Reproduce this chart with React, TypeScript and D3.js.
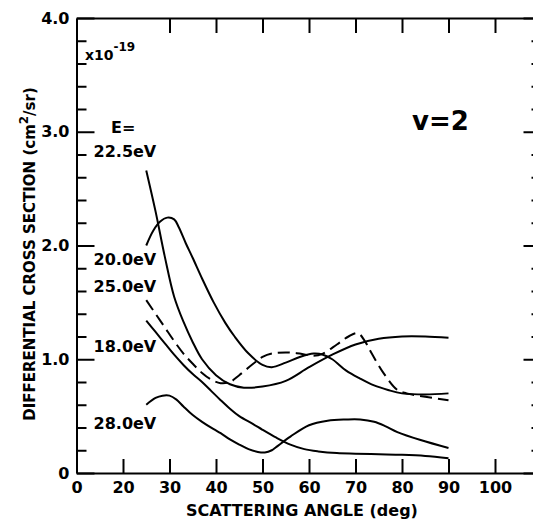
import React, { useRef, useEffect } from 'react';
import * as d3 from 'd3';

// scattering angle (deg) / differential cross section (x1e-19 cm^2/sr), v=2
const ang225 = [25, 27, 29, 31, 33, 35, 37, 40, 43, 46, 50, 55, 60, 65, 70, 75, 80, 85, 90];
const val225 = [2.66, 2.30, 1.90, 1.55, 1.33, 1.15, 1.00, 0.86, 0.78, 0.75, 0.76, 0.81, 0.93, 1.04, 1.13, 1.18, 1.20, 1.20, 1.19];

const ang200 = [25, 26.5, 28, 29.5, 31, 32, 33.5, 35, 37, 39.5, 42, 44, 47, 50, 52, 55, 58, 61, 63, 65, 68, 71, 74, 77, 80, 85, 90];
const val200 = [2.0, 2.13, 2.21, 2.245, 2.23, 2.16, 2.02, 1.89, 1.71, 1.50, 1.32, 1.20, 1.05, 0.95, 0.93, 0.97, 1.02, 1.05, 1.04, 1.00, 0.90, 0.83, 0.77, 0.73, 0.70, 0.69, 0.70];

const ang250 = [25, 27, 29, 31, 33, 35, 37, 39, 41, 43, 45, 48, 50, 52, 55, 58, 61, 63, 66, 68.5, 70.5, 72, 73.5, 76, 79, 81, 85, 90];
const val250 = [1.52, 1.40, 1.28, 1.16, 1.05, 0.96, 0.88, 0.82, 0.79, 0.80, 0.86, 0.96, 1.02, 1.05, 1.06, 1.05, 1.03, 1.05, 1.13, 1.20, 1.23, 1.16, 1.05, 0.88, 0.73, 0.70, 0.67, 0.64];

const ang180 = [25, 27, 29, 31, 33, 35, 37, 39, 41, 43, 45, 48, 50, 53, 56, 59, 62, 66, 70, 75, 80, 85, 90];
const val180 = [1.34, 1.24, 1.14, 1.04, 0.95, 0.87, 0.80, 0.72, 0.64, 0.565, 0.50, 0.43, 0.38, 0.31, 0.25, 0.21, 0.19, 0.175, 0.17, 0.165, 0.16, 0.15, 0.13];

const ang280 = [25, 27, 28.5, 30, 31.5, 33, 35, 37, 39.5, 41, 43, 45, 47, 49, 50.5, 52, 53, 56, 60, 64, 68, 71, 74, 76.5, 79, 84, 90];
const val280 = [0.60, 0.66, 0.68, 0.68, 0.645, 0.585, 0.51, 0.45, 0.385, 0.35, 0.295, 0.25, 0.21, 0.185, 0.18, 0.20, 0.23, 0.32, 0.42, 0.46, 0.47, 0.47, 0.45, 0.41, 0.36, 0.29, 0.22];

const energyLabels = ['22.5eV', '20.0eV', '25.0eV', '18.0eV', '28.0eV'];
const energyLabelY = [2.78, 1.83, 1.59, 1.064, 0.387];

const xTicks = [0, 20, 30, 40, 50, 60, 70, 80, 90, 100];
const yTicks = [0, 1, 2, 3, 4];
const yTickLabels = ['0', '1.0', '2.0', '3.0', '4.0'];

const FONT = '"DejaVu Sans", sans-serif';

function drawChart(root: d3.Selection<SVGSVGElement, unknown, null, undefined>) {
  root.selectAll('*').remove();

  const width = 533;
  const height = 521;

  root.append('rect').attr('width', width).attr('height', height).attr('fill', '#fff');

  // the axis is broken: "0" sits where 10 deg would be
  const x = d3.scaleLinear().domain([10, 110]).range([76.5, 541.5]);
  const y = d3.scaleLinear().domain([0, 4]).range([473, 18]);
  const xPos = (d: number) => (d === 0 ? 10 : d);

  const minor = d3.range(0.2, 4, 0.2).filter(d => Math.abs(d - Math.round(d)) > 0.01);

  const styleAxis = (g: any) => {
    g.selectAll('path.domain').attr('stroke', '#000').attr('stroke-width', 2);
    g.selectAll('.tick line').attr('stroke', '#000').attr('stroke-width', 2);
    g.selectAll('.tick text')
      .attr('font-family', FONT)
      .attr('font-weight', 'bold')
      .attr('font-size', 16)
      .attr('fill', '#000');
  };

  // left axis
  root.append('g')
    .attr('transform', `translate(${x(10)},0)`)
    .call(d3.axisLeft(y).tickValues(yTicks).tickSize(-18).tickSizeOuter(0).tickPadding(7)
      .tickFormat((d, i) => yTickLabels[i]))
    .call(styleAxis);
  root.append('g')
    .attr('transform', `translate(${x(10)},0)`)
    .call(d3.axisLeft(y).tickValues(minor).tickSize(-10).tickFormat(() => ''))
    .call(g => g.select('path.domain').remove())
    .call(styleAxis);

  // right axis
  root.append('g')
    .attr('transform', `translate(${x(110)},0)`)
    .call(d3.axisRight(y).tickValues(yTicks).tickSize(-18).tickSizeOuter(0).tickFormat(() => ''))
    .call(styleAxis);
  root.append('g')
    .attr('transform', `translate(${x(110)},0)`)
    .call(d3.axisRight(y).tickValues(minor).tickSize(-10).tickFormat(() => ''))
    .call(g => g.select('path.domain').remove())
    .call(styleAxis);

  // bottom axis
  root.append('g')
    .attr('transform', `translate(0,${y(0)})`)
    .call(d3.axisBottom(x).tickValues(xTicks.map(xPos)).tickSize(-14).tickSizeOuter(0).tickPadding(9)
      .tickFormat((d, i) => String(xTicks[i])))
    .call(g => g.selectAll('.tick').filter((d: any) => d === 10).select('line').remove())
    .call(styleAxis);

  // top axis
  root.append('g')
    .attr('transform', `translate(0,${y(4)})`)
    .call(d3.axisTop(x).tickValues(xTicks.filter(d => d >= 30)).tickSize(-15).tickSizeOuter(0).tickFormat(() => ''))
    .call(styleAxis);

  const line = d3.line<[number, number]>()
    .x(d => x(d[0]))
    .y(d => y(d[1]))
    .curve(d3.curveCatmullRom.alpha(0.5));

  const series = [
    { a: ang225, v: val225, dash: null },
    { a: ang200, v: val200, dash: null },
    { a: ang250, v: val250, dash: '12,6' },
    { a: ang180, v: val180, dash: null },
    { a: ang280, v: val280, dash: null },
  ];

  root.append('g')
    .selectAll('path')
    .data(series)
    .join('path')
    .attr('d', s => line(s.a.map((a, i) => [a, s.v[i]] as [number, number])))
    .attr('fill', 'none')
    .attr('stroke', '#000')
    .attr('stroke-width', 2)
    .attr('stroke-dasharray', s => s.dash);

  // energy labels
  const lab = root.append('g')
    .attr('font-family', FONT)
    .attr('font-weight', 'bold')
    .attr('font-size', 16)
    .attr('fill', '#000');

  lab.append('text')
    .attr('x', x(25) - 23)
    .attr('y', y(2.99))
    .attr('text-anchor', 'middle')
    .text('E=');

  lab.selectAll('text.e')
    .data(energyLabels)
    .join('text')
    .attr('class', 'e')
    .attr('x', x(25) + 10)
    .attr('y', (d, i) => y(energyLabelY[i]))
    .attr('text-anchor', 'end')
    .text(d => d);

  // exponent
  const ex = lab.append('text').attr('x', 85).attr('y', 60).attr('font-size', 14);
  ex.append('tspan').text('x10');
  ex.append('tspan').attr('dy', -9).attr('font-size', 12).text('-19');

  // v=2
  lab.append('text')
    .attr('x', 412)
    .attr('y', 130)
    .attr('font-size', 26)
    .text('v=2');

  // axis titles
  lab.append('text')
    .attr('x', 302)
    .attr('y', 516)
    .attr('text-anchor', 'middle')
    .text('SCATTERING ANGLE (deg)');

  const yt = lab.append('text')
    .attr('transform', 'translate(35,254) rotate(-90)')
    .attr('text-anchor', 'middle')
    .attr('font-size', 15);
  yt.append('tspan').text('DIFFERENTIAL CROSS SECTION (cm');
  yt.append('tspan').attr('dy', -7).attr('font-size', 12).text('2');
  yt.append('tspan').attr('dy', 7).text('/sr)');
}

export default function App() {
  const ref = useRef<SVGSVGElement>(null);

  useEffect(() => {
    if (ref.current) {
      drawChart(d3.select(ref.current));
    }
  }, []);

  return (
    <svg
      ref={ref}
      width={533}
      height={521}
      style={{ position: 'absolute', left: 0, top: 0, display: 'block' }}
    />
  );
}
